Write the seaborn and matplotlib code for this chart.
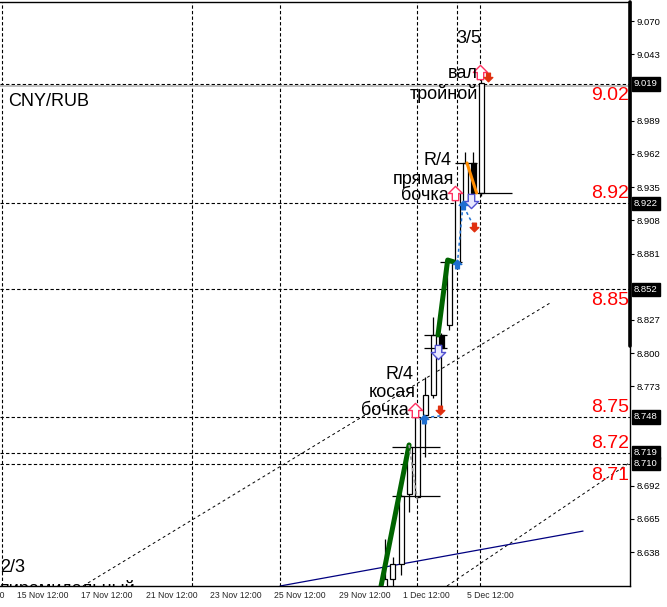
import pandas as pd
import seaborn as sns
import matplotlib.pyplot as plt
import matplotlib.transforms as mtransforms
from matplotlib.path import Path

# --- Datos: velas CNY/RUB (índice de barra) ---
candle_bars = [62, 63, 64, 65, 66, 67, 68, 69, 70, 71, 72, 73, 74]
opens = [8.5990, 8.6161, 8.6283, 8.6853, 8.6828, 8.7496, 8.7659, 8.8147, 8.8228, 8.8741, 8.9221, 8.9547, 8.9303]
highs = [8.6486, 8.6340, 8.6853, 8.7252, 8.7496, 8.7805, 8.8293, 8.8163, 8.8757, 8.9327, 8.9637, 8.9637, 9.0239]
lows = [8.5950, 8.6090, 8.6193, 8.6706, 8.6812, 8.7154, 8.7634, 8.7537, 8.8187, 8.8709, 8.9205, 8.9270, 8.9278]
closes = [8.6161, 8.6283, 8.6836, 8.7235, 8.7479, 8.7659, 8.8147, 8.8041, 8.8741, 8.9303, 8.9547, 8.9303, 9.0198]

# niveles horizontales
levels = [9.019, 8.922, 8.852, 8.748, 8.719, 8.710]
level_texts = ["9.02", "8.92", "8.85", "8.75", "8.72", "8.71"]
level_side = ["below", "above", "below", "above", "above", "below"]
bid_price = 9.0174

# eje de precios / fechas
price_ticks = [9.070, 9.043, 8.989, 8.962, 8.935, 8.908, 8.881, 8.827, 8.800, 8.773, 8.692, 8.665, 8.638]
date_ticks = [8, 16, 24, 32, 40, 48, 56, 64, 72]
date_labels = ["13 Nov 12:00", "15 Nov 12:00", "17 Nov 12:00", "21 Nov 12:00", "23 Nov 12:00",
               "25 Nov 12:00", "29 Nov 12:00", "1 Dec 12:00", "5 Dec 12:00"]
separator_bars = [14.37, 38.0, 48.95, 66.0, 70.96, 73.82]

# zigzag verde y otras líneas
zigzag_bar = [61.2, 65.0, 68.6, 69.8, 70.6]
zigzag_price = [8.6000, 8.7252, 8.8147, 8.8757, 8.8741]
zigzag_seg = [1, 1, 2, 2, 2]
grey_bar = [65.0, 66.0]
grey_price = [8.7252, 8.6812]
orange_bar = [72.2, 73.4]
orange_price = [8.9547, 8.9303]
blue_bar = [67.0, 69.1, 71.0, 71.7, 73.1]
blue_price = [8.7475, 8.7490, 8.8725, 8.9205, 8.9026]
blue_seg = [1, 1, 2, 2, 2]

# canal y línea de tendencia
upper_bar = [24.44, 82.53]
upper_price = [8.6104, 8.8407]
lower_bar = [69.72, 92.23]
lower_price = [8.6104, 8.7099]
trend_bar = [48.95, 86.64]
trend_price = [8.6104, 8.6551]

# segmentos horizontales cortos (fractales)
hl_start = [62.9, 62.9, 66.9, 66.9, 68.85, 70.7, 73.5]
hl_end = [68.85, 68.85, 69.7, 69.7, 71.6, 73.5, 77.8]
hl_price = [8.7235, 8.6836, 8.8147, 8.8041, 8.8741, 8.9547, 8.9303]

# señales (flechas)
pink_up_bar = [65.8, 70.7, 73.8]
pink_up_price = [8.7537, 8.9303, 9.0288]
hollow_down_bar = [68.6, 72.7]
hollow_down_price = [8.8008, 8.9238]
blue_up_bar = [66.9, 71.0, 71.7]
blue_up_price = [8.7463, 8.8725, 8.9205]
red_down_bar = [68.9, 73.1, 74.8]
red_down_price = [8.7537, 8.9026, 9.0247]

# --- Estilo ---
sns.set_style("white")
plt.rcParams['font.family'] = ['Liberation Sans', 'DejaVu Sans']

fig = plt.figure(figsize=(6.67, 6.07), dpi=100)
ax = fig.add_axes([0, 21 / 607, 630 / 667, 584 / 607])
ax.set_xlim(14.12, 92.48)
ax.set_ylim(8.6104, 9.0857)

dash = (0, (3, 2))

# separadores y niveles
for b in separator_bars:
    ax.axvline(b, color='black', lw=0.8, ls=dash, zorder=1)
for lv in levels:
    ax.axhline(lv, color='black', lw=0.8, ls=dash, zorder=1)
ax.axhline(bid_price, color='#b8b8b8', lw=1.3, zorder=1)

# canal y tendencia
lines = pd.DataFrame({
    'bar': upper_bar + lower_bar,
    'price': upper_price + lower_price,
    'seg': [1, 1, 2, 2],
})
sns.lineplot(data=lines, x='bar', y='price', units='seg', estimator=None, sort=False,
             color='black', lw=0.7, ls=(0, (3, 3)), ax=ax, zorder=1)
sns.lineplot(x=trend_bar, y=trend_price, color='#000080', lw=0.9, ax=ax, zorder=1)

# zigzag
zz = pd.DataFrame({'bar': zigzag_bar, 'price': zigzag_price, 'seg': zigzag_seg})
sns.lineplot(data=zz, x='bar', y='price', units='seg', estimator=None, sort=False,
             color='#006400', lw=3.6, ax=ax, zorder=4)
ax.plot(grey_bar, grey_price, color='#9a9a9a', lw=1.2, ls=(0, (2, 1.5)), zorder=5)
ax.plot(orange_bar, orange_price, color='#ff8c00', lw=2.2, zorder=5)

# velas
for b, o, h, l, c in zip(candle_bars, opens, highs, lows, closes):
    ax.vlines(b, l, h, color='black', lw=0.9, zorder=2)
bodies_bottom = [min(o, c) for o, c in zip(opens, closes)]
bodies_height = [abs(c - o) for o, c in zip(opens, closes)]
body_colors = ['white' if c >= o else 'black' for o, c in zip(opens, closes)]
ax.bar(candle_bars, bodies_height, bottom=bodies_bottom, width=0.62, color=body_colors,
       edgecolor='black', linewidth=0.9, zorder=3)

# segmentos cortos
ax.hlines(hl_price, hl_start, hl_end, color='black', lw=0.9, zorder=3)

# línea punteada azul
bl = pd.DataFrame({'bar': blue_bar, 'price': blue_price, 'seg': blue_seg})
sns.lineplot(data=bl, x='bar', y='price', units='seg', estimator=None, sort=False,
             color='#1f6fd0', lw=1.1, ls=(0, (2, 2)), ax=ax, zorder=5)

# flechas
up_arrow = Path([(0, 1), (1, 0), (0.45, 0), (0.45, -1), (-0.45, -1), (-0.45, 0), (-1, 0), (0, 1)],
                [Path.MOVETO] + [Path.LINETO] * 6 + [Path.CLOSEPOLY])
down_arrow = Path([(x, -y) for x, y in up_arrow.vertices], up_arrow.codes)

ax.scatter(pink_up_bar, pink_up_price, marker=up_arrow, s=105, facecolor='white',
           edgecolor='#ff3060', linewidth=1.0, zorder=6)
ax.scatter(hollow_down_bar, hollow_down_price, marker=down_arrow, s=105, facecolor='#e8e8ff',
           edgecolor='#5050d0', linewidth=1.0, zorder=6)
ax.scatter(blue_up_bar, blue_up_price, marker=up_arrow, s=38, color='#1f6fd0', zorder=6)
ax.scatter(red_down_bar, red_down_price, marker=down_arrow, s=38, color='#e03010', zorder=6)

# textos de patrones
tk = dict(fontsize=13, color='black', va='baseline', zorder=7)
ax.text(15.12, 9.0011, "CNY/RUB", ha='left', **tk)
ax.text(72.46, 9.0524, "3/5", ha='center', **tk)
ax.text(73.58, 9.0239, "вал", ha='right', **tk)
ax.text(73.58, 9.0064, "тройной", ha='right', **tk)
ax.text(70.34, 8.9531, "R/4", ha='right', **tk)
ax.text(70.59, 8.9372, "прямая", ha='right', **tk)
ax.text(69.97, 8.9246, "бочка", ha='right', **tk)
ax.text(65.49, 8.7789, "R/4", ha='right', **tk)
ax.text(65.87, 8.7642, "косая", ha='right', **tk)
ax.text(65.0, 8.7496, "бочка", ha='right', **tk)
ax.text(14.12, 8.6218, "2/3", ha='left', **tk)
ax.text(14.12, 8.6039, "пирамидальный", ha='left', clip_on=True, **tk)

# etiquetas rojas de niveles
for lv, txt, side in zip(levels, level_texts, level_side):
    if side == 'below':
        ax.annotate(txt, xy=(0.999, lv), xycoords=('axes fraction', 'data'), xytext=(0, -2.2),
                    textcoords='offset points', ha='right', va='top', color='red', fontsize=14, zorder=7)
    else:
        ax.annotate(txt, xy=(0.999, lv), xycoords=('axes fraction', 'data'), xytext=(0, 0.5),
                    textcoords='offset points', ha='right', va='bottom', color='red', fontsize=14, zorder=7)

# eje de precios a la derecha
ax.yaxis.tick_right()
ax.set_yticks(price_ticks)
ax.set_yticklabels([f"{p:.3f}" for p in price_ticks])
ax.tick_params(axis='y', direction='out', length=3, width=0.8, pad=1.5, labelsize=6.8, colors='black')
trans_y = mtransforms.blended_transform_factory(ax.transAxes, ax.transData)
for lv in levels:
    ax.text(1.006, lv, f"{lv:.3f}", transform=trans_y, ha='left', va='center', color='white',
            fontsize=6.8, clip_on=False,
            bbox=dict(boxstyle='square,pad=0.22', facecolor='black', edgecolor='black'))

# eje de fechas
ax.set_xticks([b for b in date_ticks if b > 14.12])
ax.set_xticklabels([])
ax.tick_params(axis='x', direction='out', length=3, width=0.8)
trans_x = mtransforms.blended_transform_factory(ax.transData, ax.transAxes)
for b, lab in zip(date_ticks, date_labels):
    ax.text(b + 0.25, -0.008, lab, transform=trans_x, ha='left', va='top', fontsize=6.2, clip_on=False)

ax.set_xlabel('')
ax.set_ylabel('')
for side in ['top', 'right', 'bottom']:
    ax.spines[side].set_color('black')
    ax.spines[side].set_linewidth(1.0)
ax.spines['left'].set_visible(False)
ax.axvline(ax.get_xlim()[1], ymin=0.411, ymax=1, color='black', lw=2.6, clip_on=False, zorder=8)

fig.savefig('out.png', dpi=100)
